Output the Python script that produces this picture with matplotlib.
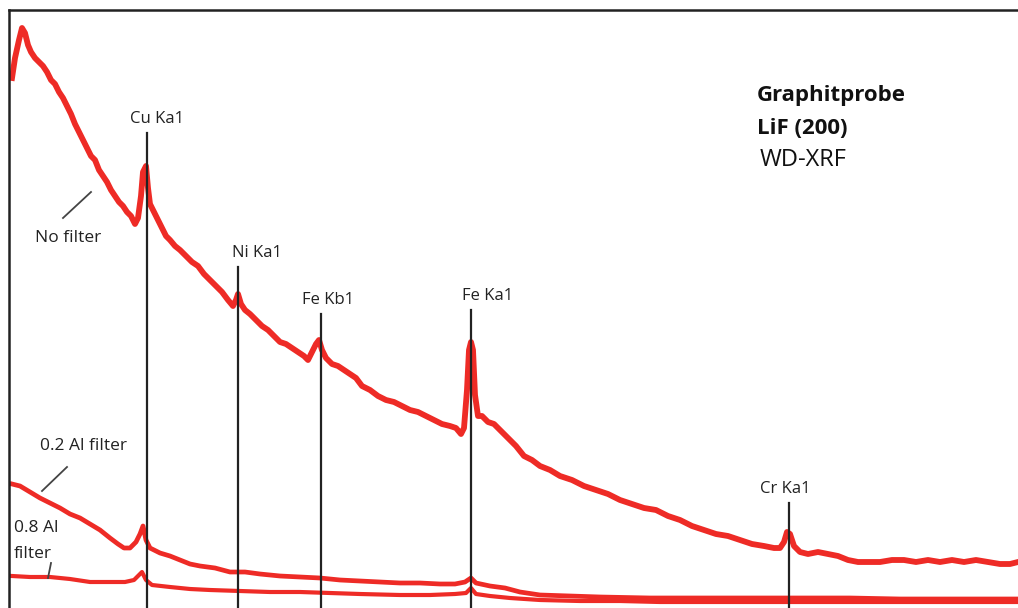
import numpy as np
import matplotlib
matplotlib.use("Agg")
import matplotlib.pyplot as plt

# -------------------------------
# Spectrum data (channel, intensity)
# intensity is in arbitrary counts, 0 = bottom of the plot
# -------------------------------
nofilter_x = [12, 15, 19, 22, 25, 28, 31, 35, 39, 43, 47, 51, 55, 59, 63, 67, 71, 75, 79, 83,
              87, 91, 95, 99, 103, 107, 111, 115, 119, 123, 127, 131, 135, 138, 141, 143, 146, 148,
              150, 154, 158, 162, 166, 170, 175, 180, 186, 192, 198, 204, 210, 216, 222, 228, 233,
              236, 238, 241, 245, 250, 256, 262, 268, 274, 280, 286, 292, 298, 304, 308, 312, 316,
              319, 322, 326, 332, 338, 344, 350, 356, 362, 370, 378, 386, 394, 402, 410, 418, 426,
              434, 442, 450, 456, 461, 464, 467, 469, 471, 473, 475, 478, 482, 488, 494, 500, 508,
              516, 524, 532, 540, 550, 560, 572, 584, 596, 608, 620, 632, 644, 656, 668, 680, 692,
              704, 716, 728, 740, 752, 764, 774, 780, 784, 787, 790, 794, 800, 808, 818, 828, 838,
              848, 858, 868, 880, 892, 904, 916, 928, 940, 952, 964, 976, 988, 1000, 1010, 1018]
nofilter_y = [530, 550, 568, 580, 575, 563, 556, 550, 546, 542, 536, 528, 524, 516, 510, 502, 494,
              484, 476, 468, 460, 452, 448, 438, 432, 426, 418, 412, 406, 402, 396, 392, 384, 390,
              412, 436, 442, 420, 404, 396, 388, 380, 372, 368, 362, 358, 352, 346, 342, 334, 328,
              322, 316, 308, 302, 308, 314, 304, 298, 294, 288, 282, 278, 272, 266, 264, 260, 256,
              252, 248, 256, 264, 268, 258, 250, 244, 242, 238, 234, 230, 222, 218, 212, 208, 206,
              202, 198, 196, 192, 188, 184, 182, 180, 174, 180, 218, 258, 266, 258, 213, 192, 192,
              186, 184, 178, 170, 162, 152, 148, 142, 138, 132, 128, 122, 118, 114, 108, 104, 100,
              98, 92, 88, 82, 78, 74, 72, 68, 64, 62, 60, 60, 66, 76, 74, 62, 56, 54, 56, 54, 52,
              48, 46, 46, 46, 48, 48, 46, 48, 46, 48, 46, 48, 46, 44, 44, 46]

al02_x = [12, 20, 30, 40, 50, 60, 70, 80, 90, 100, 110, 118, 124, 130, 136, 140, 143, 146, 150,
          160, 170, 180, 190, 200, 215, 230, 245, 260, 280, 300, 320, 340, 360, 380, 400, 420,
          440, 455, 465, 471, 476, 490, 505, 520, 540, 570, 600, 650, 700, 750, 800, 850, 900,
          950, 1018]
al02_y = [124, 122, 116, 110, 105, 100, 94, 90, 84, 78, 70, 64, 60, 60, 66, 74, 82, 68, 60, 55,
          52, 48, 44, 42, 40, 36, 36, 34, 32, 31, 30, 28, 27, 26, 25, 25, 24, 24, 26, 30, 25, 22,
          20, 16, 13, 12, 11, 10, 10, 10, 10, 10, 9, 9, 9]

al08_x = [12, 30, 50, 70, 90, 110, 125, 134, 139, 142, 146, 152, 170, 190, 210, 240, 270, 300,
          330, 360, 400, 430, 455, 466, 471, 476, 490, 510, 540, 580, 620, 660, 700, 760, 820,
          900, 1018]
al08_y = [32, 31, 31, 29, 26, 26, 26, 28, 33, 36, 28, 23, 21, 19, 18, 17, 16, 16, 15, 14, 13, 13,
          14, 15, 20, 14, 12, 10, 8, 7, 7, 6, 6, 6, 6, 6, 6]

# Peak markers
peak_names = ["Cu Ka1", "Ni Ka1", "Fe Kb1", "Fe Ka1", "Cr Ka1"]
peak_x = [147, 238, 321, 471, 789]
peak_top = [475, 341, 294, 298, 105]

# -------------------------------
# Figure
# -------------------------------
fig = plt.figure(figsize=(10.18, 6.08), dpi=100)
ax = fig.add_axes([9 / 1018, 0, 1 - 9 / 1018, 1 - 10 / 608])
ax.set_xlim(9, 1018)
ax.set_ylim(0, 598)

red = "#ee2b26"
ax.plot(al08_x, al08_y, color=red, lw=3.0, solid_joinstyle="round", zorder=2)
ax.plot(al02_x, al02_y, color=red, lw=3.4, solid_joinstyle="round", zorder=2)
ax.plot(nofilter_x, nofilter_y, color=red, lw=4.2, solid_joinstyle="round", zorder=2)

font = "Open Sans"
txt = "#222222"
label_dx = [10, 19, 7, 17, -4]
for name, px, top, dx in zip(peak_names, peak_x, peak_top, label_dx):
    ax.plot([px, px], [0, top], color="#222222", lw=1.6, zorder=3)
    ax.text(px + dx, top + 6, name, ha="center", va="bottom",
            fontsize=12, family=font, color=txt)

# curve labels with leader lines
ax.text(68, 370, "No filter", ha="center", va="center", fontsize=12.5,
        family=font, color=txt)
ax.plot([63, 91], [390, 416], color="#444444", lw=1.3)
ax.text(83, 162, "0.2 Al filter", ha="center", va="center", fontsize=12.5,
        family=font, color=txt)
ax.plot([42, 67], [117, 141], color="#444444", lw=1.3)
ax.text(14, 67, "0.8 Al\nfilter", ha="left", va="center", fontsize=12.5,
        family=font, color=txt, linespacing=1.75)
ax.plot([48, 51], [30, 45], color="#444444", lw=1.3)

# sample info
ax.text(757, 513, "Graphitprobe", ha="left", va="center", fontsize=16,
        family=font, weight="bold", color="#111111")
ax.text(757, 479, "LiF (200)", ha="left", va="center", fontsize=16,
        family=font, weight="bold", color="#111111")
ax.text(760, 448, "WD-XRF", ha="left", va="center", fontsize=17,
        family=font, color="#111111")

for s in ["right", "bottom"]:
    ax.spines[s].set_visible(False)
for s in ["top", "left"]:
    ax.spines[s].set_linewidth(1.8)
    ax.spines[s].set_color("#222222")
ax.set_xticks([])
ax.set_yticks([])

fig.savefig("out.png", dpi=100)
